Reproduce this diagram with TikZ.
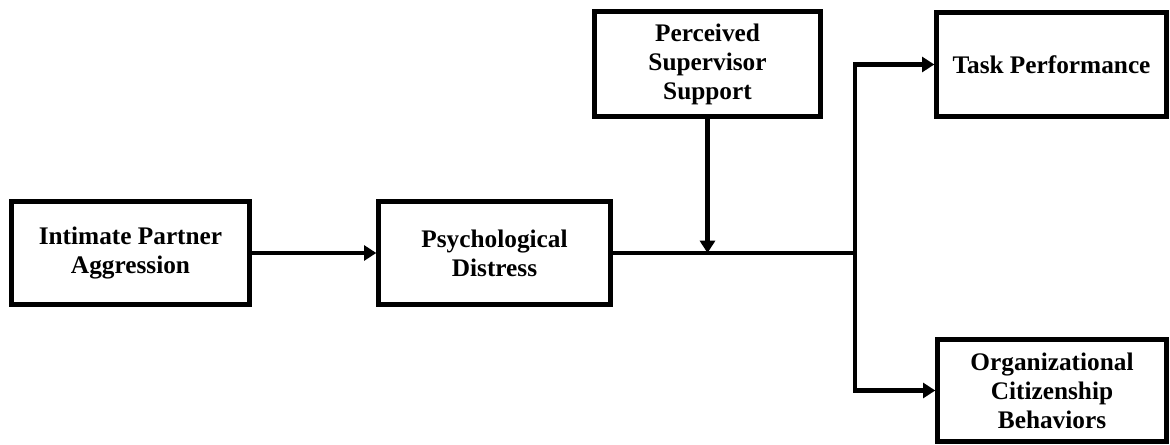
\documentclass[tikz,border=0pt]{standalone}
\usepackage{fontspec}
\setmainfont{Liberation Serif}
\usepackage{tikz}
\usetikzlibrary{arrows.meta, positioning}

\tikzset{
    box/.style={draw=black, line width=2.5pt, align=center, inner sep=2pt,
        font=\fontsize{14.4pt}{16.5pt}\selectfont\bfseries},
    link/.style={line width=2.5pt},
    arrowlink/.style={link, -{Triangle[length=7pt, width=8.5pt]}}
}

\begin{document}
\begin{tikzpicture}[x=0.02cm, y=-0.02cm]
\useasboundingbox (0,0) rectangle (1170,445);

\node[box, minimum width=4.76cm, minimum height=2.06cm] (ipa) at (130.5,253) {Intimate Partner\\Aggression};
\node[box, minimum width=4.64cm, minimum height=2.06cm] (distress) at (494.5,253) {Psychological\\Distress};
\node[box, minimum width=4.52cm, minimum height=2.1cm] (support) at (707.5,64) {Perceived\\Supervisor\\Support};
\node[box, minimum width=4.6cm, minimum height=2.08cm] (task) at (1051.5,64.5) {Task Performance};
\node[box, minimum width=4.58cm, minimum height=2.04cm] (ocb) at (1052,390.5) {Organizational\\Citizenship\\Behaviors};

\coordinate (split) at (855,253);

\draw[arrowlink] (ipa) -- (distress);
\draw[link] (distress.east) -- (split);
\draw[arrowlink] (support.south) -- (support.south |- distress.east);
\draw[arrowlink] (split) |- (task.west);
\draw[arrowlink] (split) |- (ocb.west);
\end{tikzpicture}
\end{document}
